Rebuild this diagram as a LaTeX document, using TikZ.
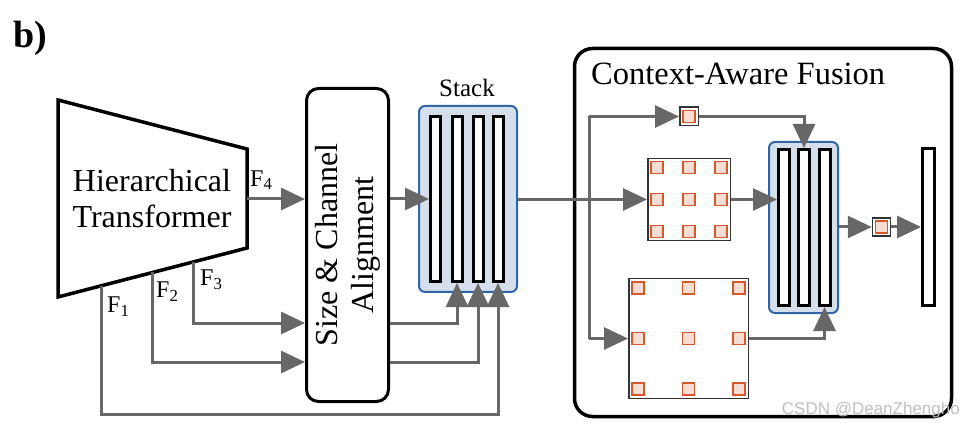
\documentclass[tikz,border=0pt]{standalone}
\usepackage{fontspec}
\setmainfont{Liberation Serif}
\newfontfamily\wmfont{Liberation Sans}
\usetikzlibrary{arrows.meta,calc}
\definecolor{linegray}{HTML}{676767}
\definecolor{stackfill}{HTML}{D5DFEC}
\definecolor{stackedge}{HTML}{3066A8}
\definecolor{sqfill}{HTML}{F6DDD4}
\definecolor{sqedge}{HTML}{D4582C}
\definecolor{boxgray}{HTML}{333333}
\tikzset{
  conn/.style={draw=linegray, line width=3pt, -{Triangle[length=24pt,width=22pt]}},
  plainconn/.style={draw=linegray, line width=3pt},
  bigtext/.style={font=\fontsize{32}{36}\selectfont, align=center, inner sep=0pt},
  flabel/.style={font=\fontsize{24}{26}\selectfont, inner sep=0pt},
  barbox/.style={draw=black, line width=3pt, fill=white, inner sep=0pt, minimum width=#1, minimum height=165pt},
  barbox/.default=10pt,
  stackbox/.style={draw=stackedge, line width=2pt, fill=stackfill, rounded corners=6pt, inner sep=0pt},
  framebox/.style={draw=boxgray, line width=1.5pt, fill=white, inner sep=0pt},
  osq/.style={draw=sqedge, line width=1.5pt, fill=sqfill, inner sep=0pt, minimum size=12pt},
}
\begin{document}
\begin{tikzpicture}[x=1pt,y=-1pt]
\useasboundingbox (0,0) rectangle (960,427);
% label
\node[font=\fontsize{38}{40}\selectfont\bfseries, inner sep=0pt] (lbl) at (30,38) {b)};
% trapezoid
\coordinate (tA) at (58,100);
\coordinate (tB) at (247,149);
\coordinate (tC) at (247,248);
\coordinate (tD) at (58,297);
\draw[line width=3.5pt, line join=miter] (tA) -- (tB) -- (tC) -- (tD) -- cycle;
\node[bigtext] (ht) at (152,199) {Hierarchical\\Transformer};
\coordinate (t4) at (247,199);
\coordinate (t3) at (193,262);
\coordinate (t2) at (152,272.5);
\coordinate (t1) at (101,286);
% size & channel alignment
\node[draw=black, line width=3pt, rounded corners=12pt, minimum width=82pt, minimum height=313pt, inner sep=0pt] (size) at (347.5,245) {};
\node[bigtext, rotate=90] (sizetext) at (348,245) {Size \& Channel\\Alignment};
% stack 1
\node[stackbox, minimum width=98pt, minimum height=186pt] (stack) at (468,199) {};
\node[font=\fontsize{25}{27}\selectfont, inner sep=0pt] (stacklbl) at (467,88) {Stack};
\node[barbox] (b1) at (435.5,199) {};
\node[barbox] (b2) at (457,199) {};
\node[barbox] (b3) at (478,199) {};
\node[barbox] (b4) at (498,199) {};
% level coordinates
\coordinate (ymid) at (0,199);
\coordinate (y3) at (0,323);
\coordinate (y2) at (0,362);
\coordinate (y1) at (0,414);
% F labels
\node[flabel, anchor=south west] (f4) at (250,190) {F\textsubscript{4}};
\node[flabel, anchor=north west] (f3) at (200,270) {F\textsubscript{3}};
\node[flabel, anchor=north west] (f2) at (156,282) {F\textsubscript{2}};
\node[flabel, anchor=north west] (f1) at (107,297) {F\textsubscript{1}};
% connectors left part
\draw[conn] (t4) -- (size.west |- t4);
\draw[conn] (t3) |- (size.west |- y3);
\draw[conn] (t2) |- (size.west |- y2);
\draw[conn] (size.east |- ymid) -- (b1.west |- ymid);
\draw[conn] (size.east |- y3) -| (b2.south);
\draw[conn] (size.east |- y2) -| (b3.south);
\draw[conn] (t1) |- (b4.south |- y1) -- (b4.south);
% context-aware fusion frame
\node[draw=black, line width=3.5pt, rounded corners=18pt, minimum width=377pt, minimum height=368pt, inner sep=0pt] (caf) at (763,232.5) {};
\node[font=\fontsize{32.5}{34}\selectfont, inner sep=0pt, anchor=west] (caftitle) at (591,74) {Context-Aware Fusion};
% top small square
\node[framebox, minimum size=18.5pt] (topsq) at (689,116.5) {};
\node[osq] (topsqi) at (topsq.center) {};
% middle 3x3 box
\node[framebox, minimum width=82.5pt, minimum height=82pt] (mid) at (689,199.5) {};
\foreach \i/\dx in {1/-32,2/0,3/32}{
  \foreach \j/\dy in {1/-32,2/0,3/32}{
    \node[osq] (m\i\j) at ($(mid.center)+(\dx,\dy)$) {};
  }
}
% big dilated box
\node[framebox, minimum width=119.5pt, minimum height=119.5pt] (big) at (688.5,338.5) {};
\foreach \i/\dx in {1/-50.5,2/0,3/50.5}{
  \foreach \j/\dy in {1/-50.5,2/0,3/50.5}{
    \node[osq] (g\i\j) at ($(big.center)+(\dx,\dy)$) {};
  }
}
% stack 2
\node[stackbox, minimum width=69pt, minimum height=171pt] (stack2) at (803.5,227.5) {};
\node[barbox=11pt, minimum height=156pt] (c1) at (784,227.5) {};
\node[barbox=11pt, minimum height=156pt] (c2) at (804,227.5) {};
\node[barbox=11pt, minimum height=156pt] (c3) at (824.5,227.5) {};
% output
\node[framebox, minimum size=18pt] (outsq) at (881.5,227) {};
\node[osq] (outsqi) at (outsq.center) {};
\node[barbox=12pt, minimum height=157pt] (final) at (928.5,227) {};
% connectors right part
\coordinate (jtop) at (589,116.5);
\coordinate (jbot) at (589,338.5);
\coordinate (jmid) at (589,199.5);
\draw[plainconn] (stack.east |- mid.west) -- (jmid);
\draw[conn] (jmid) -- (mid.west);
\draw[plainconn, line join=miter] (jbot) -- (jtop);
\draw[conn] (jtop) -- (topsq.west);
\draw[conn] (jbot) -- (big.west);
\draw[conn] (topsq.east) -| (c2.north);
\draw[conn] (mid.east) -- (c1.west |- mid.east);
\draw[conn] (big.east) -| (c3.south);
\draw[conn] (stack2.east |- outsq.west) -- (outsq.west);
\draw[conn] (outsq.east) -- (final.west |- outsq.east);
% watermark
\node[font=\wmfont\fontsize{17}{18}\selectfont, text=black!25, anchor=east, inner sep=0pt] (wm) at (960,410) {CSDN @DeanZhengho};
\end{tikzpicture}
\end{document}
